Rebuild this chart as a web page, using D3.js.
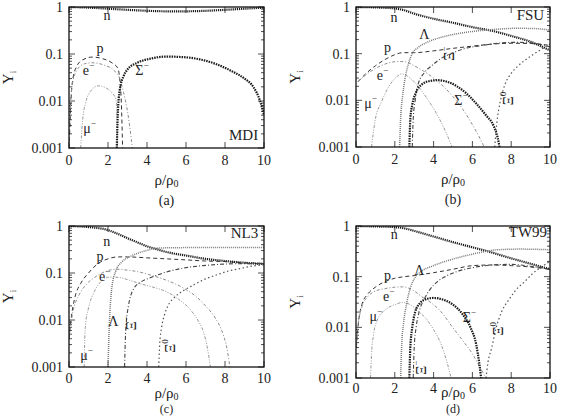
<!DOCTYPE html>
<html>
<head>
<meta charset="utf-8">
<script src="https://cdn.jsdelivr.net/npm/d3@7"></script>
<style>
body { margin: 0; background: #fff; }
svg { display: block; }
text { font-family: "Liberation Serif", "DejaVu Serif", serif; fill: #222; }
</style>
</head>
<body>
<div id="chart"></div>
<script>
var xTicks = [0, 2, 4, 6, 8, 10];
var yTicks = [1, 0.1, 0.01, 0.001];
var yTickLabels = ["1", "0.1", "0.01", "0.001"];
var panelNames = ["MDI", "FSU", "NL3", "TW99"];
var captions = ["(a)", "(b)", "(c)", "(d)"];

// (a) MDI
var mdiN = [[0,1],[1,0.97],[2,0.92],[3,0.87],[4,0.83],[5,0.81],[6,0.81],[7,0.83],[8,0.87],[9,0.92],[10,0.97]];
var mdiP = [[0,0.001],[0.05,0.003],[0.1,0.01],[0.2,0.03],[0.4,0.055],[0.7,0.075],[1.2,0.086],[1.7,0.08],[2.2,0.065],[2.5,0.05],[2.6,0.03],[2.68,0.01],[2.75,0.001]];
var mdiE = [[0,0.001],[0.05,0.005],[0.15,0.02],[0.4,0.045],[0.8,0.062],[1.2,0.065],[1.8,0.058],[2.3,0.045],[2.6,0.03],[2.8,0.015],[3.0,0.006],[3.2,0.0015],[3.25,0.001]];
var mdiMu = [[0.6,0.001],[0.7,0.004],[0.85,0.009],[1.1,0.016],[1.5,0.021],[1.9,0.019],[2.2,0.015],[2.4,0.011],[2.45,0.006],[2.5,0.001]];
var mdiSigma = [[2.45,0.001],[2.5,0.005],[2.6,0.017],[2.8,0.034],[3.0,0.047],[3.5,0.065],[4.2,0.08],[5.0,0.088],[6.0,0.085],[6.7,0.077],[7.5,0.062],[8.4,0.042],[9.0,0.03],[9.45,0.02],[9.8,0.01],[10,0.005]];

// (b) FSU
var fsuN = [[0,1],[1,0.98],[2,0.93],[2.5,0.85],[3,0.72],[4,0.56],[5,0.46],[6,0.37],[7,0.31],[8,0.24],[9,0.18],[10,0.117]];
var fsuP = [[0.1,0.025],[0.5,0.037],[1.0,0.055],[1.5,0.075],[2.0,0.095],[2.4,0.105],[3,0.105],[4,0.115],[5,0.13],[6,0.145],[7,0.16],[8,0.167],[9,0.165],[10,0.15]];
var fsuE = [[0.1,0.025],[0.5,0.035],[1.0,0.048],[1.5,0.06],[2.2,0.068],[2.6,0.066],[3.0,0.055],[3.5,0.042],[4.0,0.03],[4.5,0.02],[5.0,0.012],[5.5,0.0065],[6.0,0.003],[6.4,0.0015],[6.6,0.001]];
var fsuMu = [[0.8,0.001],[1.0,0.004],[1.3,0.009],[1.7,0.02],[2.1,0.032],[2.35,0.037],[2.7,0.032],[3.2,0.02],[3.8,0.009],[4.3,0.004],[4.7,0.0018],[4.95,0.001]];
var fsuLambda = [[2.25,0.001],[2.3,0.004],[2.4,0.012],[2.5,0.025],[2.7,0.06],[2.9,0.1],[3.2,0.135],[3.6,0.17],[4.5,0.23],[5.5,0.28],[6.5,0.315],[7.3,0.335],[8.3,0.35],[9.2,0.345],[10,0.32]];
var fsuXim = [[2.9,0.001],[2.95,0.004],[3.05,0.01],[3.2,0.022],[3.5,0.038],[3.9,0.055],[4.4,0.08],[4.9,0.1],[5.5,0.125],[6.5,0.15],[7.5,0.17],[8.3,0.175],[9,0.17],[9.6,0.155],[10,0.14]];
var fsuSigma = [[2.75,0.001],[2.8,0.004],[2.9,0.008],[3.1,0.015],[3.4,0.022],[3.8,0.026],[4.2,0.027],[4.7,0.025],[5.2,0.02],[5.7,0.014],[6.2,0.0085],[6.7,0.0048],[7.1,0.0028],[7.3,0.0016],[7.4,0.001]];
var fsuXi0 = [[7.15,0.001],[7.25,0.003],[7.45,0.01],[7.7,0.023],[8.0,0.038],[8.3,0.052],[8.7,0.072],[9.1,0.094],[9.5,0.12],[10,0.16]];

// (c) NL3
var nl3N = [[0,1],[1,0.95],[2,0.82],[2.5,0.68],[3,0.55],[3.5,0.45],[4,0.37],[4.5,0.32],[5,0.28],[6,0.235],[7,0.2],[8,0.18],[9,0.165],[10,0.155]];
var nl3P = [[0,0.004],[0.1,0.01],[0.3,0.03],[0.6,0.06],[1.0,0.1],[1.5,0.16],[2.0,0.2],[2.5,0.22],[3,0.22],[4,0.21],[5,0.2],[6,0.19],[7,0.18],[8,0.175],[9,0.165],[10,0.16]];
var nl3E = [[0.02,0.005],[0.2,0.015],[0.5,0.033],[0.9,0.058],[1.3,0.08],[1.8,0.105],[2.4,0.12],[3.0,0.115],[3.6,0.105],[4.2,0.09],[4.8,0.075],[5.4,0.06],[5.9,0.047],[6.5,0.032],[7.0,0.02],[7.5,0.011],[7.9,0.005],[8.1,0.0025],[8.25,0.001]];
var nl3Mu = [[0.78,0.001],[0.8,0.003],[0.85,0.008],[1.0,0.018],[1.3,0.04],[1.6,0.063],[2.1,0.082],[2.6,0.08],[3.1,0.07],[3.6,0.06],[4.3,0.05],[5.0,0.04],[5.6,0.028],[6.2,0.017],[6.6,0.01],[6.9,0.0055],[7.1,0.0025],[7.25,0.001]];
var nl3Lambda = [[2.0,0.001],[2.05,0.005],[2.1,0.015],[2.2,0.05],[2.4,0.11],[2.7,0.17],[3.1,0.22],[3.6,0.27],[4.1,0.31],[4.6,0.34],[5.5,0.345],[7,0.35],[10,0.35]];
var nl3Xim = [[2.85,0.001],[2.9,0.005],[2.95,0.01],[3.05,0.02],[3.3,0.045],[3.7,0.065],[4.2,0.08],[5,0.105],[6,0.13],[7,0.145],[8,0.155],[9,0.158],[10,0.158]];
var nl3Xi0 = [[4.6,0.001],[4.65,0.003],[4.75,0.007],[4.9,0.013],[5.1,0.021],[5.4,0.03],[5.9,0.043],[6.4,0.056],[7,0.075],[7.6,0.092],[8.1,0.108],[8.8,0.125],[9.4,0.14],[10,0.15]];

// (d) TW99
var twN = [[0,1],[1,0.98],[2,0.95],[2.5,0.9],[3,0.8],[4,0.62],[5,0.48],[6,0.38],[7,0.3],[8,0.23],[9,0.18],[10,0.14]];
var twP = [[0.02,0.004],[0.1,0.01],[0.3,0.028],[0.6,0.045],[1.0,0.062],[1.5,0.08],[2.0,0.093],[2.5,0.1],[3,0.105],[4,0.12],[5,0.14],[6,0.165],[7,0.17],[8,0.165],[9,0.155],[10,0.14]];
var twE = [[0.02,0.004],[0.1,0.01],[0.3,0.025],[0.6,0.04],[1.0,0.052],[1.5,0.058],[2.0,0.062],[2.4,0.063],[2.9,0.055],[3.4,0.04],[3.9,0.03],[4.4,0.02],[4.9,0.011],[5.5,0.0055],[6.0,0.003],[6.4,0.0016],[6.7,0.001]];
var twMu = [[0.75,0.001],[0.8,0.003],[0.9,0.007],[1.1,0.014],[1.5,0.022],[2.0,0.028],[2.4,0.031],[2.8,0.028],[3.2,0.021],[3.6,0.015],[4.0,0.009],[4.4,0.0045],[4.7,0.002],[4.9,0.001]];
var twLambda = [[2.3,0.001],[2.35,0.004],[2.45,0.012],[2.6,0.028],[2.8,0.06],[3.0,0.09],[3.4,0.13],[3.9,0.16],[4.6,0.2],[5.5,0.25],[6.4,0.3],[7.3,0.34],[8.5,0.35],[10,0.34]];
var twSigma = [[2.75,0.001],[2.8,0.004],[2.9,0.01],[3.05,0.02],[3.3,0.03],[3.6,0.036],[4.0,0.038],[4.5,0.035],[5.0,0.028],[5.5,0.018],[5.9,0.01],[6.2,0.0045],[6.35,0.002],[6.45,0.001]];
var twXim = [[2.95,0.001],[3.0,0.004],[3.1,0.01],[3.25,0.02],[3.5,0.035],[3.8,0.055],[4.2,0.08],[4.7,0.105],[5.3,0.13],[6,0.15],[7,0.17],[8,0.175],[9,0.16],[10,0.14]];
var twXi0 = [[6.7,0.001],[6.8,0.002],[7.0,0.004],[7.2,0.009],[7.5,0.02],[7.9,0.036],[8.3,0.058],[8.7,0.08],[9.1,0.115],[9.5,0.15],[10,0.2]];

// line styles per particle
var styles = {
    n:      { color: "#1a1a1a", width: 2.2, dash: "1.2,0.9" },
    p:      { color: "#333",    width: 1,   dash: "4,3" },
    e:      { color: "#8c8c8c", width: 1,   dash: "3,2,1,2" },
    mu:     { color: "#999",    width: 1,   dash: "3,1.5,1,1.5,1,1.5" },
    sigma:  { color: "#1a1a1a", width: 2.2, dash: "1.5,1" },
    lambda: { color: "#777",    width: 1.5, dash: "1,1" },
    xim:    { color: "#444",    width: 1.1, dash: "4,2,1,2" },
    xi0:    { color: "#555",    width: 1.2, dash: "1.5,2.5" }
};

// labels: [main, sup, x, y, rotate]
var panels = [
    { x0: 69, x1: 264, y0: 7, y1: 148, tickDy: 17, titleDy: 37, capDy: 57, capSize: 14, nameAt: [9.7, 0.0019],
      series: [["n", mdiN], ["p", mdiP], ["e", mdiE], ["mu", mdiMu], ["sigma", mdiSigma]],
      labels: [["n", "", 1.95, 0.68], ["p", "", 1.59, 0.134], ["e", "-", 1.0, 0.046], ["Σ", "-", 3.74, 0.046], ["μ", "-", 1.05, 0.0027]] },
    { x0: 356, x1: 550, y0: 7, y1: 147, tickDy: 17, titleDy: 37, capDy: 57, capSize: 14, nameAt: [9.7, 0.67],
      series: [["n", fsuN], ["p", fsuP], ["e", fsuE], ["mu", fsuMu], ["lambda", fsuLambda], ["xim", fsuXim], ["sigma", fsuSigma], ["xi0", fsuXi0]],
      labels: [["n", "", 1.96, 0.61], ["p", "", 1.63, 0.14], ["e", "-", 1.36, 0.035], ["μ", "-", 0.75, 0.0087], ["Λ", "", 3.52, 0.27],
               ["Ξ", "-", 4.79, 0.1, true], ["Σ", "-", 5.41, 0.01], ["Ξ", "0", 7.82, 0.011, true]] },
    { x0: 69, x1: 264, y0: 226, y1: 367, tickDy: 16, titleDy: 31, capDy: 46, capSize: 12, nameAt: [9.7, 0.71],
      series: [["n", nl3N], ["p", nl3P], ["e", nl3E], ["mu", nl3Mu], ["lambda", nl3Lambda], ["xim", nl3Xim], ["xi0", nl3Xi0]],
      labels: [["n", "", 1.93, 0.49], ["p", "", 1.59, 0.23], ["e", "-", 1.83, 0.085], ["μ", "-", 0.9, 0.0018], ["Λ", "", 2.27, 0.0093],
               ["Ξ", "-", 3.18, 0.0086, true], ["Ξ", "0", 5.18, 0.0028, true]] },
    { x0: 356, x1: 550, y0: 226, y1: 378, tickDy: 15, titleDy: 19, capDy: 34.5, capSize: 12, nameAt: [9.85, 0.76],
      series: [["n", twN], ["p", twP], ["e", twE], ["mu", twMu], ["lambda", twLambda], ["xim", twXim], ["sigma", twSigma], ["xi0", twXi0]],
      labels: [["n", "", 1.97, 0.69], ["Λ", "", 3.26, 0.137], ["p", "", 1.63, 0.11], ["e", "-", 1.68, 0.041], ["μ", "-", 1.02, 0.017],
               ["Σ", "-", 5.84, 0.016], ["Ξ", "0", 7.32, 0.0094, true], ["Ξ", "-", 3.35, 0.0016, true]] }
];

var svg = d3.select("#chart").append("svg").attr("width", 562).attr("height", 416);

panels.forEach(function(pn, k) {
    var x = d3.scaleLinear().domain([0, 10]).range([pn.x0, pn.x1]);
    var y = d3.scaleLog().domain([0.001, 1]).range([pn.y1, pn.y0]);
    var g = svg.append("g");

    g.append("clipPath").attr("id", "clip" + k)
        .append("rect").attr("x", pn.x0).attr("y", pn.y0)
        .attr("width", pn.x1 - pn.x0).attr("height", pn.y1 - pn.y0);

    // ticks (inward, mirrored)
    var minor = [];
    for (var dec = 0.001; dec < 1; dec *= 10) {
        for (var m = 2; m <= 9; m++) minor.push(dec * m);
    }
    var tk = g.append("g").attr("stroke", "#222").attr("stroke-width", 0.8);
    minor.forEach(function(v) {
        tk.append("line").attr("x1", pn.x0).attr("x2", pn.x0 + 3).attr("y1", y(v)).attr("y2", y(v));
        tk.append("line").attr("x1", pn.x1).attr("x2", pn.x1 - 3).attr("y1", y(v)).attr("y2", y(v));
    });
    yTicks.forEach(function(v) {
        tk.append("line").attr("x1", pn.x0).attr("x2", pn.x0 + 6).attr("y1", y(v)).attr("y2", y(v));
        tk.append("line").attr("x1", pn.x1).attr("x2", pn.x1 - 6).attr("y1", y(v)).attr("y2", y(v));
    });
    xTicks.forEach(function(v) {
        tk.append("line").attr("x1", x(v)).attr("x2", x(v)).attr("y1", pn.y1).attr("y2", pn.y1 - 6);
        tk.append("line").attr("x1", x(v)).attr("x2", x(v)).attr("y1", pn.y0).attr("y2", pn.y0 + 6);
    });

    // curves
    var line = d3.line()
        .x(function(d) { return x(d[0]); })
        .y(function(d) { return y(d[1]); })
        .curve(d3.curveMonotoneX);
    var cg = g.append("g").attr("clip-path", "url(#clip" + k + ")");
    pn.series.forEach(function(s) {
        var st = styles[s[0]];
        cg.append("path").datum(s[1])
            .attr("d", line)
            .attr("fill", "none")
            .attr("stroke", st.color)
            .attr("stroke-width", st.width)
            .attr("stroke-dasharray", st.dash);
    });

    // frame
    g.append("rect").attr("x", pn.x0).attr("y", pn.y0)
        .attr("width", pn.x1 - pn.x0).attr("height", pn.y1 - pn.y0)
        .attr("fill", "none").attr("stroke", "#111").attr("stroke-width", 1.3);

    // tick labels
    yTicks.forEach(function(v, i) {
        g.append("text").attr("x", pn.x0 - 6).attr("y", y(v) + 5)
            .attr("text-anchor", "end").attr("font-size", 14).text(yTickLabels[i]);
    });
    xTicks.forEach(function(v) {
        g.append("text").attr("x", x(v)).attr("y", pn.y1 + pn.tickDy)
            .attr("text-anchor", "middle").attr("font-size", 14).text(v);
    });

    // axis titles
    var cx = (pn.x0 + pn.x1) / 2, cy = (pn.y0 + pn.y1) / 2;
    var yt = g.append("text").attr("transform", "translate(" + (pn.x0 - 56) + "," + cy + ") rotate(-90)")
        .attr("text-anchor", "middle").attr("font-size", 15);
    yt.append("tspan").text("Y");
    yt.append("tspan").attr("font-size", 9).attr("dy", 3).text("i");

    var xt = g.append("text").attr("x", cx).attr("y", pn.y1 + pn.titleDy)
        .attr("text-anchor", "middle").attr("font-size", 15);
    xt.append("tspan").text("ρ/ρ");
    xt.append("tspan").attr("font-size", 10).attr("dy", 2).text("0");

    g.append("text").attr("x", cx).attr("y", pn.y1 + pn.capDy)
        .attr("text-anchor", "middle").attr("font-size", pn.capSize).text(captions[k]);

    g.append("text").attr("x", x(pn.nameAt[0])).attr("y", y(pn.nameAt[1]) + 5)
        .attr("text-anchor", "end").attr("font-size", 15).text(panelNames[k]);

    // particle labels
    pn.labels.forEach(function(l) {
        var t = g.append("text")
            .attr("transform", "translate(" + x(l[2]) + "," + y(l[3]) + ")" + (l[4] ? " rotate(-90)" : ""))
            .attr("text-anchor", "middle").attr("dominant-baseline", "central").attr("font-size", 14);
        t.append("tspan").text(l[0]);
        if (l[1]) t.append("tspan").attr("font-size", 9).attr("dy", -5).text(l[1] === "-" ? "\u2212" : l[1]);
    });
});
</script>
</body>
</html>
